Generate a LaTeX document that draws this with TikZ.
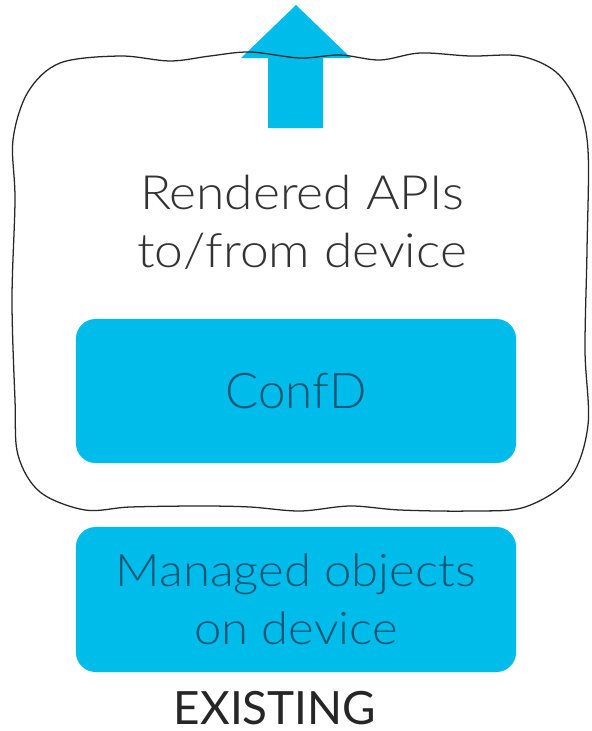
\documentclass[tikz,border=0pt]{standalone}
\usepackage{fontspec}
\setmainfont{Lato}[UprightFont=*-Light]
\newfontfamily\widefont{Lato}[UprightFont=*-Light,FakeStretch=1.09]
\newfontfamily\regfont{Lato}
\usetikzlibrary{positioning}
\definecolor{ciscoblue}{HTML}{00BCEB}
\definecolor{darkteal}{HTML}{0B5575}
\definecolor{textgray}{HTML}{333333}

\begin{document}
\begin{tikzpicture}
				[x=0.025cm,y=-0.025cm,
				box/.style={fill=ciscoblue,rounded corners=14pt,text=darkteal,inner sep=0pt,minimum width=11cm,align=center},
				outline/.style={draw=black!85,line width=0.9pt,line join=round}]
				\useasboundingbox (0,0) rectangle (592,731);
				
				% arrow out of the cloud
				\fill[ciscoblue] (296,5) -- (351,58) -- (323,58) -- (323,128) -- (268,128) -- (268,58) -- (241,58) -- cycle;
				
				% hand drawn outline
				\draw[outline] plot[smooth cycle,tension=0.55] coordinates {
					(60,63) (120,56) (170,61) (210,56) (250,52) (300,58) (340,55) (380,60) (420,53) (470,56) (520,56)
					(556,72) (578,105) (588,150) (587,250) (585,350) (588,425)
					(570,478) (525,507) (470,511) (400,510) (350,506) (300,511) (250,507) (200,506) (130,507) (85,510)
					(40,492) (18,455) (15,400) (12,300) (15,200) (13,140) (28,92)};
				
				\node[text=textgray,align=center,font=\widefont\fontsize{33.6}{41}\selectfont] (rendered) at (302,222) {Rendered APIs\\to/from device};
				\node[box,minimum height=3.6cm,font=\fontsize{35}{41}\selectfont] (confd) at (296,391) {ConfD};
				\node[box,minimum height=3.625cm,font=\widefont\fontsize{32}{41}\selectfont] (managed) at (296,599.5) {Managed objects\\on device};
				\node[text=black!85,inner sep=0pt,font=\regfont\fontsize{32.6}{40}\selectfont] (existing) at (275,708) {EXISTING};
\end{tikzpicture}
\end{document}
